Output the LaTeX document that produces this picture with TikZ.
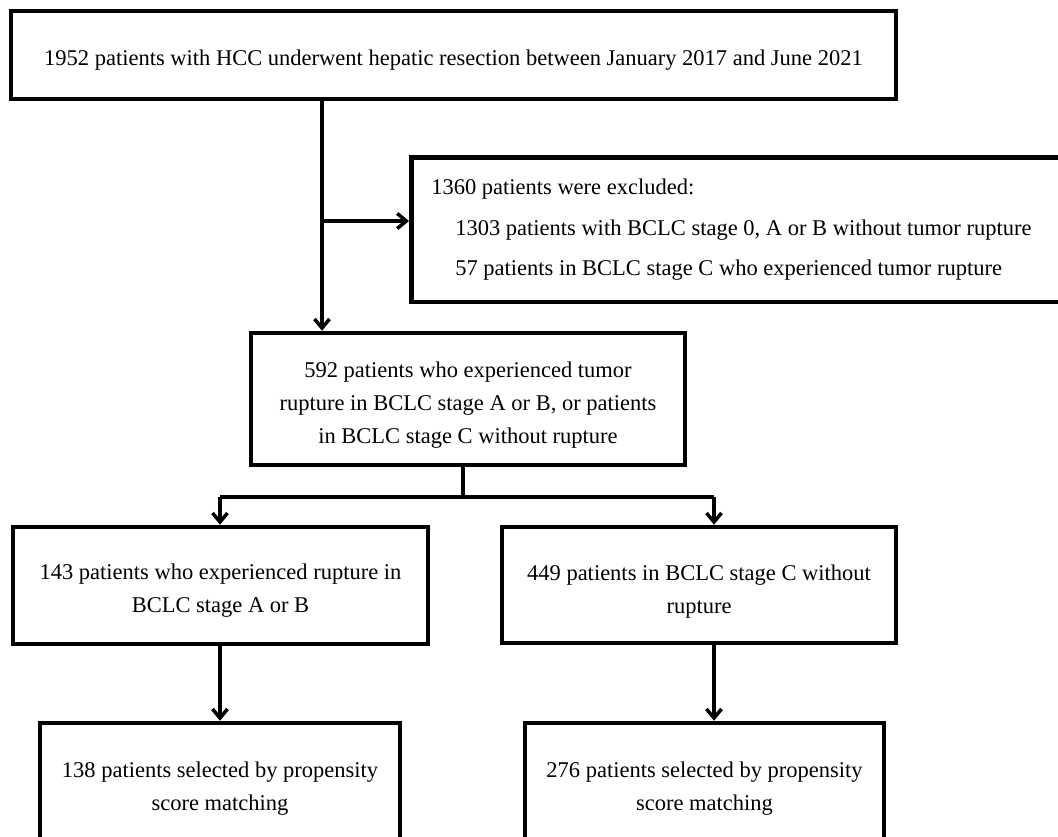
\documentclass[tikz,border=0pt]{standalone}
\usepackage{fontspec}
\setmainfont{Liberation Serif}
\usetikzlibrary{arrows.meta}
\tikzset{
  box/.style={draw, line width=4.5pt, inner sep=0pt},
  txt/.style={inner sep=0pt, align=center, font=\fontsize{22.5}{33}\selectfont},
  conn/.style={line width=3.5pt},
  arr/.style={conn, -{Straight Barb[length=9pt,width=15pt]}}
}
\begin{document}
\begin{tikzpicture}[x=1pt,y=-1pt]
\useasboundingbox (0,0) rectangle (1058,837);
\fill[white] (0,0) rectangle (1058,837);
\clip (0,0) rectangle (1058,837);

\node[box, minimum width=885pt, minimum height=88pt] (top) at (453.5,55) {};
\node[txt] (top-t) at ([yshift=-5pt]top.center)
  {1952 patients with HCC underwent hepatic resection between January 2017 and June 2021};

\node[box, anchor=north west, minimum width=800pt, minimum height=144pt,
  text width=760pt, inner xsep=20pt, align=flush left,
  font=\fontsize{22.5}{40.5}\selectfont] (excl) at (409,155.5)
  {1360 patients were excluded:\\
   \hspace*{24pt}1303 patients with BCLC stage 0, A or B without tumor rupture\\
   \hspace*{24pt}57 patients in BCLC stage C who experienced tumor rupture};

\node[box, minimum width=434pt, minimum height=132pt] (mid) at (468,399) {};
\node[txt] (mid-t) at ([yshift=-6pt]mid.center)
  {592 patients who experienced tumor\\rupture in BCLC stage A or B, or patients\\in BCLC stage C without rupture};

\node[box, minimum width=415pt, minimum height=117pt] (lbox) at (220.5,585.5) {};
\node[txt] (lbox-t) at ([yshift=-5pt]lbox.center)
  {143 patients who experienced rupture in\\BCLC stage A or B};

\node[box, minimum width=394pt, minimum height=116pt] (rbox) at (699,585) {};
\node[txt] (rbox-t) at ([yshift=-7pt]rbox.center)
  {449 patients in BCLC stage C without\\rupture};

\node[box, minimum width=360pt, minimum height=127pt] (lbot) at (220,786.5) {};
\node[txt] (lbot-t) at ([yshift=-2pt]lbot.center)
  {138 patients selected by propensity\\score matching};

\node[box, minimum width=359pt, minimum height=127pt] (rbot) at (704.5,786.5) {};
\node[txt] (rbot-t) at ([yshift=-2pt]rbot.center)
  {276 patients selected by propensity\\score matching};

\coordinate (j1) at (322,221);
\coordinate (j2) at (463,497);
\coordinate (jl) at (220,497);
\coordinate (jr) at (714,497);

\draw[arr] (top.south -| j1) -- (j1 |- mid.north);
\draw[arr] (j1) -- (j1 -| excl.west);
\draw[conn] (mid.south -| j2) -- (j2);
\draw[conn] (jl) -- (jr);
\draw[arr] (jl) -- (jl |- lbox.north);
\draw[arr] (jr) -- (jr |- rbox.north);
\draw[arr] (jl |- lbox.south) -- (jl |- lbot.north);
\draw[arr] (jr |- rbox.south) -- (jr |- rbot.north);
\end{tikzpicture}
\end{document}
